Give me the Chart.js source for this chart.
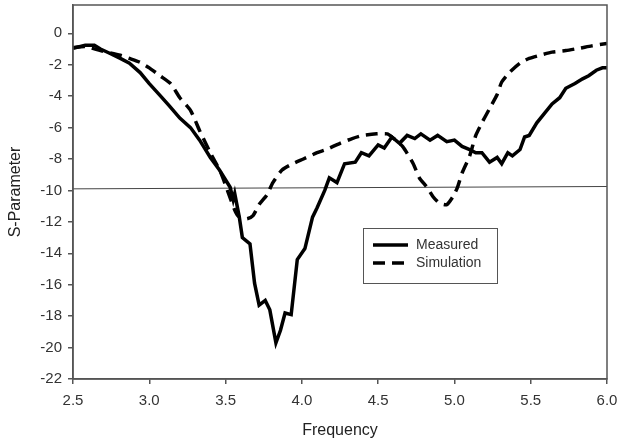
<!DOCTYPE html>
<html>
<head>
<meta charset="utf-8">
<script src="https://cdn.jsdelivr.net/npm/chart.js@4.4.1/dist/chart.umd.min.js"></script>
<style>
  html, body { margin: 0; padding: 0; background: #fff; }
  #wrap { width: 617px; height: 445px; }
</style>
</head>
<body>
<div id="wrap"><canvas id="chart"></canvas></div>
<script>
// data
const freqMeasured = [2.50, 2.58, 2.64, 2.68, 2.74, 2.81, 2.87, 2.94, 3.00, 3.07, 3.13, 3.20, 3.27, 3.33, 3.40,
  3.46, 3.53, 3.55, 3.56, 3.59, 3.61, 3.66, 3.69, 3.72, 3.76, 3.79, 3.83, 3.86, 3.89, 3.93, 3.97, 4.02, 4.07,
  4.10, 4.15, 4.18, 4.23, 4.28, 4.35, 4.39, 4.44, 4.50, 4.54, 4.59, 4.64, 4.69, 4.74, 4.78, 4.84, 4.89, 4.95,
  5.00, 5.05, 5.10, 5.14, 5.18, 5.23, 5.28, 5.31, 5.35, 5.38, 5.43, 5.46, 5.49, 5.54, 5.59, 5.64, 5.69, 5.73,
  5.79, 5.84, 5.88, 5.93, 5.97, 6.00];
const measured = [-0.95, -0.76, -0.76, -1.0, -1.27, -1.6, -1.9, -2.5, -3.2, -3.95, -4.6, -5.4, -6.0, -6.8, -7.9,
  -8.7, -9.8, -10.6, -10.2, -11.7, -13.0, -13.4, -15.9, -17.3, -17.0, -17.6, -19.7, -18.9, -17.8, -17.9, -14.4,
  -13.7, -11.7, -11.1, -10.0, -9.2, -9.5, -8.3, -8.2, -7.6, -7.8, -7.1, -7.3, -6.6, -7.0, -6.5, -6.7, -6.4, -6.8,
  -6.5, -6.9, -6.8, -7.2, -7.4, -7.6, -7.6, -8.2, -7.9, -8.3, -7.6, -7.8, -7.4, -6.6, -6.5, -5.7, -5.1, -4.5,
  -4.1, -3.5, -3.2, -2.9, -2.7, -2.35, -2.2, -2.2];

const freqSim = [2.50, 2.58, 2.68, 2.81, 2.87, 2.94, 3.00, 3.07, 3.14, 3.20, 3.27, 3.33, 3.40, 3.47, 3.56,
  3.59, 3.64, 3.68, 3.72, 3.77, 3.81, 3.87, 3.94, 4.01, 4.10, 4.16, 4.25, 4.33, 4.40, 4.49, 4.56, 4.59, 4.66,
  4.73, 4.77, 4.82, 4.86, 4.90, 4.95, 4.99, 5.02, 5.05, 5.10, 5.14, 5.18, 5.23, 5.28, 5.31, 5.36, 5.43, 5.49,
  5.56, 5.64, 5.73, 5.82, 5.90, 6.00];
const simulation = [-0.9, -0.85, -1.1, -1.4, -1.6, -1.85, -2.2, -2.7, -3.2, -4.1, -4.9, -6.2, -7.6, -8.9, -11.25,
  -11.7, -11.8, -11.6, -10.9, -10.3, -9.5, -8.7, -8.3, -8.0, -7.6, -7.4, -7.0, -6.7, -6.5, -6.4, -6.4, -6.6, -7.2,
  -8.3, -9.2, -9.8, -10.4, -10.8, -10.9, -10.4, -9.8, -8.9, -7.8, -6.5, -5.7, -4.8, -3.9, -3.1, -2.5, -1.9, -1.6,
  -1.4, -1.2, -1.1, -0.95, -0.8, -0.65];

// the -10 reference line
const freqRef = [2.5, 6.0];
const refLine = [-9.9, -9.75];

const xTicks = [2.5, 3.0, 3.5, 4.0, 4.5, 5.0, 5.5, 6.0];
const yTicks = [0, -2, -4, -6, -8, -10, -12, -14, -16, -18, -20, -22];

const toPoints = (xs, ys) => xs.map((x, i) => ({ x: x, y: ys[i] }));

const axisColor = "#555";
const textColor = "#333";
const font = "'Liberation Sans', Arial, sans-serif";

// box around the plot area
const frame = {
  id: "frame",
  afterDraw(chart) {
    const { ctx, chartArea: a } = chart;
    ctx.save();
    ctx.strokeStyle = axisColor;
    ctx.lineWidth = 1.5;
    ctx.strokeRect(a.left, a.top, a.right - a.left, a.bottom - a.top);
    ctx.restore();
  },
};

// legend box inside the plot
const boxLegend = {
  id: "boxLegend",
  afterDraw(chart) {
    const ctx = chart.ctx;
    const sets = chart.data.datasets.filter((d) => d.label);
    ctx.save();
    ctx.fillStyle = "#fff";
    ctx.fillRect(363, 228, 134, 55);
    ctx.strokeStyle = axisColor;
    ctx.lineWidth = 1;
    ctx.strokeRect(363.5, 228.5, 134, 55);
    sets.forEach((d, i) => {
      const y = 245 + i * 18;
      ctx.beginPath();
      ctx.setLineDash(d.borderDash || []);
      ctx.strokeStyle = d.borderColor;
      ctx.lineWidth = d.borderWidth;
      ctx.moveTo(373, y);
      ctx.lineTo(408, y);
      ctx.stroke();
      ctx.setLineDash([]);
      ctx.fillStyle = textColor;
      ctx.font = "14px " + font;
      ctx.textBaseline = "middle";
      ctx.fillText(d.label, 416, y);
    });
    ctx.restore();
  },
};

new Chart(document.getElementById("chart"), {
  type: "line",
  data: {
    datasets: [
      {
        label: "Measured",
        data: toPoints(freqMeasured, measured),
        borderColor: "#000",
        borderWidth: 3.5,
        tension: 0,
      },
      {
        label: "Simulation",
        data: toPoints(freqSim, simulation),
        borderColor: "#000",
        borderWidth: 3.5,
        borderDash: [12, 7],
        tension: 0.2,
      },
      {
        label: "",
        data: toPoints(freqRef, refLine),
        borderColor: "#444",
        borderWidth: 1,
      },
    ],
  },
  options: {
    animation: false,
    responsive: true,
    maintainAspectRatio: false,
    layout: { padding: { left: 0, right: 10, top: 5, bottom: 0 } },
    plugins: { legend: { display: false }, tooltip: { enabled: false } },
    elements: { point: { radius: 0 }, line: { borderCapStyle: "butt" } },
    scales: {
      x: {
        type: "linear",
        min: 2.5,
        max: 6.0,
        afterFit: (s) => { s.height = 66; s.paddingLeft = 0; s.paddingRight = 0; },
        afterBuildTicks: (s) => { s.ticks = xTicks.map((v) => ({ value: v })); },
        grid: { drawOnChartArea: false, drawTicks: true, tickLength: 5, color: axisColor, lineWidth: 1.5 },
        border: { display: true, color: axisColor, width: 1.5 },
        ticks: {
          color: textColor,
          font: { family: font, size: 15 },
          padding: 8,
          maxRotation: 0,
          callback: (v) => Number(v).toFixed(1),
        },
        title: {
          display: true,
          text: "Frequency",
          color: "#222",
          font: { family: font, size: 16 },
          padding: { top: 0, bottom: 5 },
        },
      },
      y: {
        min: -22,
        max: 1.8,
        afterFit: (s) => { s.width = 73; s.paddingTop = 0; s.paddingBottom = 0; },
        afterBuildTicks: (s) => { s.ticks = yTicks.map((v) => ({ value: v })); },
        grid: { drawOnChartArea: false, drawTicks: true, tickLength: 5, color: axisColor, lineWidth: 1.5 },
        border: { display: true, color: axisColor, width: 1.5 },
        ticks: {
          color: textColor,
          font: { family: font, size: 15 },
          padding: 6,
        },
        title: {
          display: true,
          text: "S-Parameter",
          color: "#222",
          font: { family: font, size: 16 },
          padding: { top: 6, bottom: 0 },
        },
      },
    },
  },
  plugins: [frame, boxLegend],
});
</script>
</body>
</html>
